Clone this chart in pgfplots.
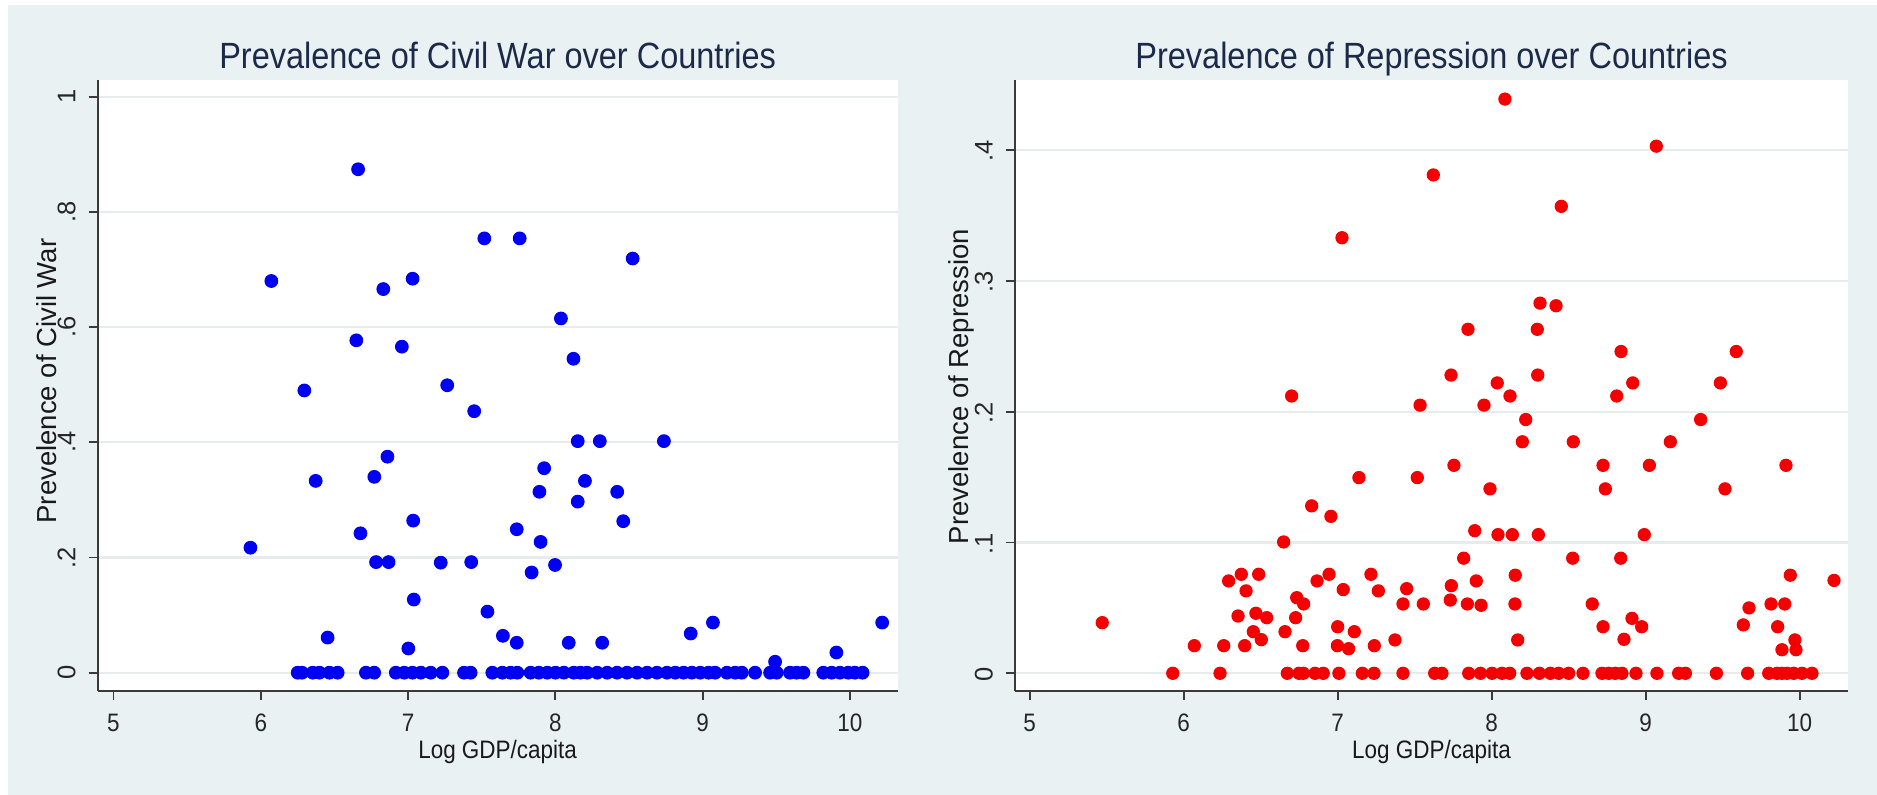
\documentclass[border=0pt]{standalone}
\usepackage{pgfplots}
\pgfplotsset{compat=1.18}
\usepackage{fontspec}
\setmainfont{Liberation Sans}
\newfontfamily\narrowfont[FakeStretch=0.89]{Liberation Sans}
\definecolor{bgcol}{HTML}{EAF1F3}
\definecolor{titlecol}{HTML}{1C2A4A}
\definecolor{gridcol}{HTML}{E8EBEC}
\definecolor{axcol}{HTML}{3A3A3A}
\definecolor{blueM}{HTML}{0000F5}
\definecolor{redM}{HTML}{F50000}

\pgfplotstableread{
x y
6.661 0.874
7.518 0.754
7.758 0.754
8.525 0.719
6.072 0.680
6.832 0.666
7.031 0.684
8.038 0.615
6.649 0.577
6.958 0.566
8.123 0.545
6.296 0.490
7.266 0.499
7.449 0.454
8.152 0.402
8.302 0.402
8.737 0.402
6.860 0.375
7.924 0.355
6.373 0.333
6.771 0.340
8.201 0.333
7.892 0.314
8.420 0.314
8.152 0.297
7.035 0.264
8.461 0.263
7.738 0.249
6.677 0.242
7.900 0.227
5.930 0.217
6.783 0.192
6.868 0.192
7.222 0.191
7.429 0.192
7.998 0.187
7.839 0.174
7.039 0.127
7.539 0.106
9.070 0.087
10.219 0.087
8.919 0.068
7.644 0.064
6.454 0.061
7.738 0.052
8.091 0.052
8.318 0.052
7.002 0.042
9.908 0.035
9.492 0.019
6.251 0
6.280 0
6.353 0
6.398 0
6.466 0
6.522 0
6.714 0
6.770 0
6.917 0
6.974 0
7.030 0
7.087 0
7.154 0
7.233 0
7.380 0
7.425 0
7.572 0
7.640 0
7.696 0
7.742 0
7.832 0
7.888 0
7.945 0
8.001 0
8.058 0
8.125 0
8.170 0
8.216 0
8.284 0
8.352 0
8.419 0
8.487 0
8.555 0
8.623 0
8.690 0
8.758 0
8.814 0
8.871 0
8.927 0
8.984 0
9.040 0
9.085 0
9.165 0
9.221 0
9.266 0
9.356 0
9.458 0
9.503 0
9.593 0
9.638 0
9.684 0
9.819 0
9.876 0
9.932 0
9.988 0
10.034 0
10.086 0
}\civilwar

\pgfplotstableread{
x y
7.028 0.333
7.621 0.381
6.701 0.212
8.086 0.439
9.069 0.403
8.452 0.357
8.314 0.283
8.418 0.281
7.846 0.263
8.296 0.263
8.840 0.246
9.588 0.246
7.736 0.228
8.299 0.228
8.036 0.222
8.916 0.222
9.485 0.222
8.119 0.212
8.812 0.212
7.535 0.205
7.950 0.205
8.221 0.194
9.357 0.194
8.199 0.177
8.530 0.177
9.160 0.177
7.755 0.159
8.723 0.159
9.024 0.159
9.911 0.159
7.989 0.141
8.738 0.141
9.515 0.141
7.890 0.109
8.041 0.106
8.134 0.106
8.303 0.106
8.991 0.106
7.818 0.088
8.526 0.088
8.838 0.088
8.153 0.075
9.939 0.075
10.223 0.071
7.738 0.067
7.900 0.0706
7.556 0.053
7.731 0.056
7.842 0.053
7.931 0.052
8.151 0.053
8.653 0.053
9.671 0.050
9.814 0.053
9.903 0.053
8.911 0.042
9.634 0.037
8.723 0.0356
8.974 0.0356
9.857 0.0356
8.169 0.0255
8.859 0.026
9.969 0.0255
9.885 0.018
9.976 0.018
5.471 0.0387
7.138 0.1496
7.517 0.1496
6.831 0.128
6.956 0.120
6.649 0.1004
6.374 0.0757
6.487 0.0757
6.944 0.0757
7.216 0.0757
6.292 0.0706
6.866 0.0706
6.405 0.063
7.036 0.064
7.264 0.063
7.448 0.0647
6.734 0.0578
6.779 0.053
7.424 0.053
6.353 0.0438
6.469 0.0459
6.539 0.0425
6.727 0.0425
6.452 0.0318
6.504 0.0257
6.658 0.0318
7.000 0.0356
7.108 0.0318
6.069 0.0211
6.260 0.0211
6.396 0.0211
6.773 0.0211
6.998 0.0211
7.071 0.0188
7.238 0.0211
7.372 0.0255
5.929 0
6.236 0
6.673 0
6.749 0
6.777 0
6.853 0
6.906 0
7.008 0
7.160 0
7.236 0
7.424 0
7.630 0
7.677 0
7.851 0
7.927 0
8.002 0
8.067 0
8.117 0
8.229 0
8.310 0
8.381 0
8.435 0
8.500 0
8.593 0
8.716 0
8.760 0
8.803 0
8.846 0
8.937 0
9.073 0
9.214 0
9.258 0
9.459 0
9.662 0
9.799 0
9.853 0
9.885 0
9.918 0
9.961 0
10.015 0
10.080 0
}\repression

\pgfplotsset{
  stataaxis/.style={
    scale only axis,
    axis lines*=left,
    axis line style={draw=axcol, line width=0.8pt},
    tick align=outside,
    major tick length=3.6pt,
    tick style={draw=axcol, line width=0.7pt},
    minor tick num=0,
    ymajorgrids,
    grid style={draw=gridcol, line width=0.9pt},
    axis background/.style={fill=white},
    xtick={5,6,7,8,9,10},
    xticklabels={5,6,7,8,9,10},
    xticklabel style={font=\narrowfont\fontsize{10.1}{12}\selectfont, text=black!85, inner sep=0pt, anchor=base, yshift=-12.8pt},
    yticklabel style={font=\fontsize{10.2}{12}\selectfont, text=black!85, inner sep=0pt, xshift=-5.3pt, rotate=90, anchor=base},
    title style={font=\narrowfont\fontsize{14.6}{16}\selectfont, text=titlecol, anchor=base, yshift=-6pt},
    xlabel style={font=\narrowfont\fontsize{10.1}{12}\selectfont, text=black!90, inner sep=0pt, anchor=base, at={(axis description cs:0.5,-0.1107)}},
    ylabel style={font=\fontsize{11}{13}\selectfont, text=black!90, inner sep=0pt, anchor=base},
    clip=false,
  }
}

\begin{document}
\begin{tikzpicture}
\fill[white] (0,0) rectangle (750.8pt,318pt);
\fill[bgcol] (3.2pt,0) rectangle (750.8pt,316pt);

\begin{axis}[stataaxis,
  at={(39.08pt,41.72pt)}, anchor=south west,
  width=319.92pt, height=244.28pt,
  xmin=4.893, xmax=10.323, ymin=-0.03125, ymax=1.029,
  ytick={0,0.2,0.4,0.6,0.8,1},
  yticklabels={0,.2,.4,.6,.8,1},
  title={Prevalence of Civil War over Countries},
  title style={at={(axis description cs:0.5,1.0192)}},
  xlabel={Log GDP/capita},
  ylabel={Prevelence of Civil War},
  ylabel style={at={(axis description cs:-0.0520,0.507)}},
]
\addplot[only marks, mark=*, mark size=2.55pt, mark options={fill=blueM, draw=blueM}] table[x=x,y=y] {\civilwar};
\end{axis}

\begin{axis}[stataaxis,
  at={(405.96pt,41.72pt)}, anchor=south west,
  width=333.32pt, height=244.28pt,
  xmin=4.904, xmax=10.315, ymin=-0.0133, ymax=0.4536,
  ytick={0,0.1,0.2,0.3,0.4},
  yticklabels={0,.1,.2,.3,.4},
  yticklabel style={xshift=-0.5pt},
  title={Prevalence of Repression over Countries},
  title style={at={(axis description cs:0.5,1.0192)}},
  xlabel={Log GDP/capita},
  ylabel={Prevelence of Repression},
  ylabel style={at={(axis description cs:-0.0555,0.498)}},
]
\addplot[only marks, mark=*, mark size=2.45pt, mark options={fill=redM, draw=redM}] table[x=x,y=y] {\repression};
\end{axis}
\end{tikzpicture}
\end{document}
